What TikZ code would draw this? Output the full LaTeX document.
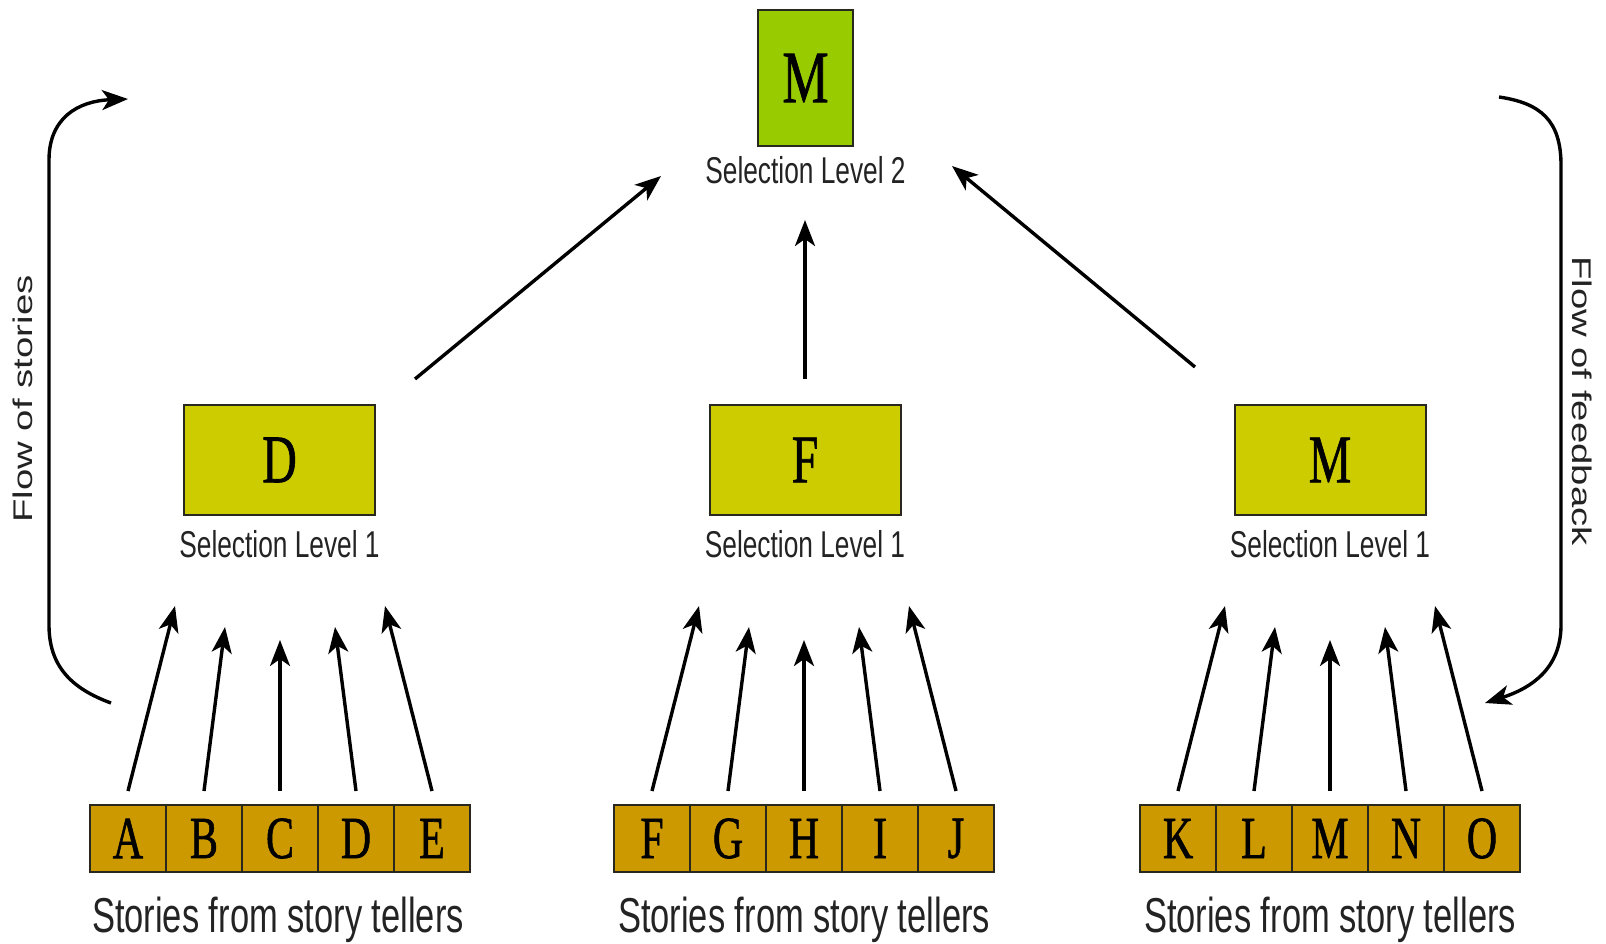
\documentclass[tikz,border=0pt]{standalone}
\usepackage{fontspec}
\setmainfont{Liberation Sans}
\newfontfamily\letterfont[FakeBold=1.2]{Liberation Serif}
\usetikzlibrary{arrows.meta}
\definecolor{lvltwo}{RGB}{153,204,0}
\definecolor{lvlone}{RGB}{204,204,0}
\definecolor{storyc}{RGB}{204,153,0}
\definecolor{edgec}{RGB}{40,40,30}
\definecolor{txtc}{RGB}{35,35,35}
\newcommand{\vst}[1]{\scalebox{1}[1.42]{#1}}
\newcommand{\hst}[1]{\scalebox{1.42}[1]{#1}}
\tikzset{
  boxbase/.style={draw=edgec, line width=2pt, inner sep=0pt},
  topbox/.style={boxbase, fill=lvltwo, minimum width=95pt, minimum height=136pt, font=\letterfont\fontsize{52}{58}\selectfont},
  lvbox/.style={boxbase, fill=lvlone, minimum width=191pt, minimum height=110pt, font=\letterfont\fontsize{48}{54}\selectfont},
  cellbox/.style={boxbase, fill=storyc, minimum width=76pt, minimum height=67pt, font=\letterfont\fontsize{42}{48}\selectfont},
  lbl/.style={anchor=base, inner sep=0pt, text=txtc, font=\fontsize{26.3}{30}\selectfont},
  biglbl/.style={anchor=base, inner sep=0pt, text=txtc, font=\fontsize{34.5}{40}\selectfont},
  sidelbl/.style={inner sep=0pt, text=txtc, font=\fontsize{27}{31}\selectfont},
  arr/.style={line width=3.4pt, -{Stealth[length=26pt,width=20pt,inset=7pt]}},
}
\begin{document}
\begin{tikzpicture}[x=1pt,y=-1pt]
\useasboundingbox[fill=white] (0,0) rectangle (1606,943);

% top
\node[topbox] (top) at (805.5,78) {\vst{M}};
\node[lbl] (toplbl) at (805.5,183) {\vst{Selection Level 2}};

% level 1
\node[lvbox] (l1a) at (279.5,460) {\vst{D}};
\node[lvbox] (l1b) at (805,460) {\vst{F}};
\node[lvbox] (l1c) at (1330,460) {\vst{M}};
\node[lbl] (l1alab) at (279.5,557) {\vst{Selection Level 1}};
\node[lbl] (l1blab) at (805,557) {\vst{Selection Level 1}};
\node[lbl] (l1clab) at (1330,557) {\vst{Selection Level 1}};

% cells
\foreach \g/\xo/\letters in {a/90/{A,B,C,D,E}, b/614/{F,G,H,I,J}, c/1140/{K,L,M,N,O}} {
  \foreach \l [count=\i from 0] in \letters {
    \node[cellbox] (c\g\i) at (\xo+38+76*\i,838.5) {\vst{\l}};
  }
}
\node[biglbl] (sla) at (278,932) {\vst{Stories from story tellers}};
\node[biglbl] (slb) at (804,932) {\vst{Stories from story tellers}};
\node[biglbl] (slc) at (1330,932) {\vst{Stories from story tellers}};

% arrows from cells
\foreach \g/\c in {a/280, b/804, c/1330} {
  \coordinate (e\g0) at (\c-105,606);
  \coordinate (e\g1) at (\c-55,627);
  \coordinate (e\g2) at (\c,640);
  \coordinate (e\g3) at (\c+55,627);
  \coordinate (e\g4) at (\c+105,606);
  \foreach \i in {0,...,4} {
    \draw[arr] ([yshift=13pt]c\g\i.north) -- (e\g\i);
  }
}

% arrows to top
\coordinate (sa) at (415,379);
\coordinate (ta) at (661,176);
\coordinate (sb) at (805,379);
\coordinate (tb) at (805,220);
\coordinate (sc) at (1195,367);
\coordinate (tc) at (952,166);
\draw[arr] (sa) -- (ta);
\draw[arr] (sb) -- (tb);
\draw[arr] (sc) -- (tc);

% side curves
\coordinate (sL) at (111,703);
\coordinate (eL) at (128,99);
\draw[arr] (sL) .. controls (70,688) and (49,665) .. (49,625) -- (49,160) .. controls (49,118) and (78,101) .. (eL);
\node[sidelbl, rotate=90] (fls) at (23,399) {\hst{Flow of stories}};

\coordinate (sR) at (1499,97);
\coordinate (eR) at (1485,703);
\draw[arr] (sR) .. controls (1540,103) and (1561,120) .. (1561,165) -- (1561,625) .. controls (1561,668) and (1532,688) .. (eR);
\node[sidelbl, rotate=-90] (flf) at (1582,401) {\hst{Flow of feedback}};
\end{tikzpicture}
\end{document}
